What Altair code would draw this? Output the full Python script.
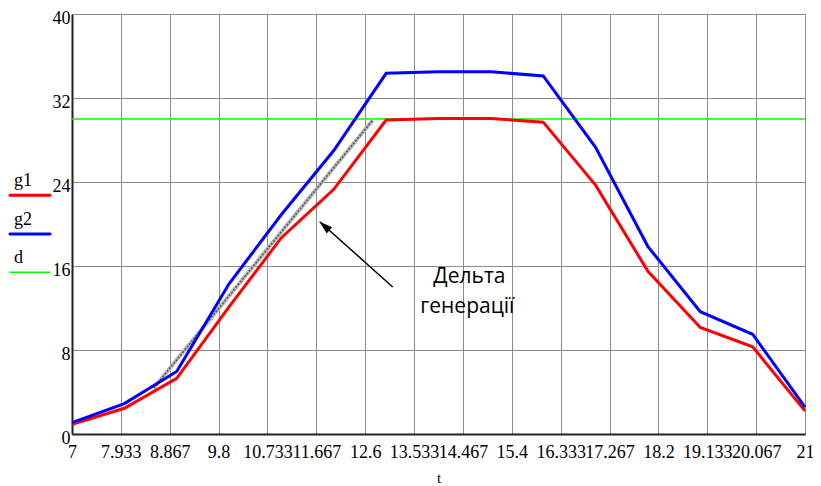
import altair as alt
import pandas as pd

# ---- data ----
t = [7, 8, 9, 10, 11, 12, 13, 14, 15, 16, 17, 18, 19, 20, 21]
g1 = [0.92, 2.45, 5.3, 12.1, 18.7, 23.3, 29.9, 30.05, 30.05, 29.7, 23.7, 15.5, 10.15, 8.3, 2.2]
g2 = [1.08, 2.9, 5.95, 14.3, 20.9, 27.0, 34.35, 34.5, 34.5, 34.1, 27.3, 17.85, 11.65, 9.5, 2.55]
d_level = 30.0

x_ticks = [7, 7.9333, 8.8667, 9.8, 10.7333, 11.6667, 12.6, 13.5333, 14.4667,
           15.4, 16.3333, 17.2667, 18.2, 19.1333, 20.0667, 21]
y_ticks = [0, 8, 16, 24, 32, 40]

delta_t = [8.56, 12.745]
delta_y = [4.38, 29.9]

arrow_tail = (13.125, 14.0)
arrow_tip = (11.731, 20.22)

note_lines = ["Дельта", "генерації"]
note_t = [14.59, 14.55]
note_y = [14.95, 12.1]

legend_names = ["g1", "g2", "d"]
legend_colors = ["#ff0000", "#0000ff", "#00ff00"]

# ---- build ----
df = pd.DataFrame({"t": t, "g1": g1, "g2": g2, "d": [d_level] * len(t)})

xs = alt.Scale(domain=[7, 21], nice=False, zero=False)
ys = alt.Scale(domain=[0, 40], nice=False)

SERIF = "Liberation Serif"

xax = alt.Axis(values=x_ticks, labelExpr="format(datum.value, '.3~f')",
               labelFont=SERIF, labelFontSize=18, labelColor="black",
               labelPadding=9, ticks=False, grid=True, gridColor="#8c8c8c",
               gridWidth=1, domainColor="#222", domainWidth=2, title="t",
               titleFont=SERIF, titleFontSize=15, titleFontWeight="normal",
               titleColor="black", titlePadding=9, labelOverlap=False, labelFlush=False)
yax = alt.Axis(values=y_ticks, labelFont=SERIF, labelFontSize=18,
               labelColor="black", ticks=False, labelPadding=2, labelOffset=4,
               grid=True, gridColor="#8c8c8c", gridWidth=1, domainColor="#222",
               domainWidth=2, title=None, labelOverlap=False)

base = alt.Chart(df)

d_line = base.mark_line(color="#00ff00", strokeWidth=1.5).encode(
    x=alt.X("t:Q", scale=xs, axis=xax), y=alt.Y("d:Q", scale=ys, axis=yax))

ddf = pd.DataFrame({"t": delta_t, "y": delta_y})
gray_outer = alt.Chart(ddf).mark_line(color="#b8b8b8", strokeWidth=4).encode(
    x=alt.X("t:Q", scale=xs), y=alt.Y("y:Q", scale=ys))
gray_inner = alt.Chart(ddf).mark_line(color="#555555", strokeWidth=1.5,
                                      strokeDash=[2, 1.5]).encode(
    x=alt.X("t:Q", scale=xs), y=alt.Y("y:Q", scale=ys))

red = base.mark_line(color="#ff0000", strokeWidth=3).encode(
    x=alt.X("t:Q", scale=xs), y=alt.Y("g1:Q", scale=ys))
blue = base.mark_line(color="#0000ff", strokeWidth=3).encode(
    x=alt.X("t:Q", scale=xs), y=alt.Y("g2:Q", scale=ys))

adf = pd.DataFrame({"t": [arrow_tail[0]], "y": [arrow_tail[1]],
                    "t2": [arrow_tip[0]], "y2": [arrow_tip[1]]})
arrow_line = alt.Chart(adf).mark_rule(color="black", strokeWidth=1.5).encode(
    x=alt.X("t:Q", scale=xs), y=alt.Y("y:Q", scale=ys), x2="t2:Q", y2="y2:Q")
hdf = pd.DataFrame({"t": [arrow_tip[0]], "y": [arrow_tip[1]]})
arrow_head = alt.Chart(hdf).mark_point(
    shape="M0,0L0.32,1L-0.32,1Z", filled=True, color="black", opacity=1,
    size=676, angle=311.7, strokeWidth=0).encode(
    x=alt.X("t:Q", scale=xs), y=alt.Y("y:Q", scale=ys))

ndf = pd.DataFrame({"t": note_t, "y": note_y, "txt": note_lines})
note = alt.Chart(ndf).mark_text(font="Open Sans", fontSize=21, color="black",
                                align="center", baseline="middle").encode(
    x=alt.X("t:Q", scale=xs), y=alt.Y("y:Q", scale=ys), text="txt:N")

# custom legend at the left (label above a line sample)
leg_layers = []
text_y = [172, 210.5, 248.5]
rule_y = [181.3, 220, 258.3]
widths = [3, 3, 1.5]
for name, col, ty, ry, w in zip(legend_names, legend_colors, text_y, rule_y, widths):
    leg_layers.append(alt.Chart(pd.DataFrame({"n": [name]})).mark_text(
        font=SERIF, fontSize=18, color="black", align="left",
        baseline="alphabetic").encode(x=alt.value(-58), y=alt.value(ty), text="n:N"))
    leg_layers.append(alt.Chart(pd.DataFrame({"n": [name]})).mark_rule(
        color=col, strokeWidth=w, strokeCap="round").encode(
        x=alt.value(-62), x2=alt.value(-22), y=alt.value(ry)))

chart = alt.layer(d_line, gray_outer, gray_inner, red, blue, arrow_line,
                  arrow_head, note, *leg_layers).properties(
    width=733, height=420,
    padding={"left": 64, "top": 6, "right": 8, "bottom": 50},
    autosize=alt.AutoSizeParams(type="none"),
).configure_view(stroke="#222", strokeWidth=2).configure(background="white")

chart.save("out.html", embed_options={"renderer": "svg", "actions": False})
